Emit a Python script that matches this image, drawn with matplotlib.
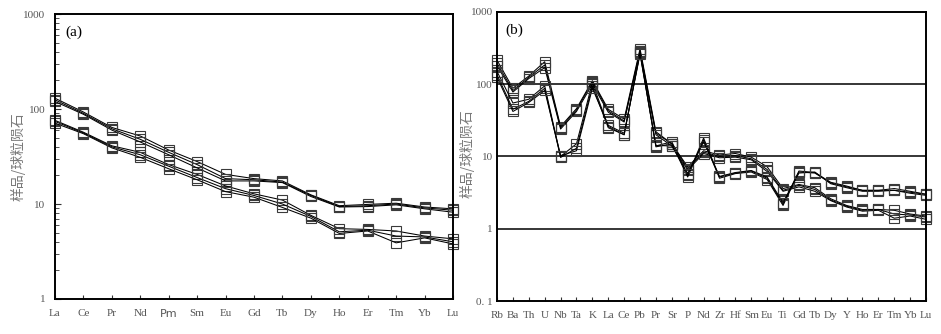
import numpy as np
import matplotlib
matplotlib.use('Agg')
import matplotlib.pyplot as plt
from matplotlib.ticker import LogLocator, NullFormatter, FixedLocator

# ---- data ----
# (a) chondrite-normalised REE
ree = ['La', 'Ce', 'Pr', 'Nd', 'Pm', 'Sm', 'Eu', 'Gd', 'Tb', 'Dy', 'Ho', 'Er', 'Tm', 'Yb', 'Lu']
ree_hi1 = [130, 93, 64, 52, 37, 28, 20.5, 18.5, 17.5, 12.5, 9.6, 9.9, 10.2, 9.3, 8.9]
ree_hi2 = [125, 90, 62, 48, 35, 26, 18.5, 18.0, 17.0, 12.3, 9.4, 9.6, 10.0, 9.1, 8.6]
ree_hi3 = [120, 88, 60, 45, 33, 24, 17.5, 17.5, 16.8, 12.0, 9.3, 9.4, 9.8, 8.9, 8.2]
ree_lo1 = [76, 57, 41, 35, 26, 20.5, 15.5, 12.8, 11.0, 7.6, 5.5, 5.4, 5.2, 4.6, 4.3]
ree_lo2 = [74, 56, 40, 33, 25, 19.0, 14.5, 12.3, 10.0, 7.4, 5.1, 5.3, 4.6, 4.5, 4.0]
ree_lo3 = [71, 55, 39, 31, 23.5, 18.0, 13.5, 11.8, 9.2, 7.1, 4.9, 5.2, 3.9, 4.4, 3.8]

# (b) spider diagram
spd = ['Rb', 'Ba', 'Th', 'U', 'Nb', 'Ta', 'K', 'La', 'Ce', 'Pb', 'Pr', 'Sr', 'P', 'Nd',
       'Zr', 'Hf', 'Sm', 'Eu', 'Ti', 'Gd', 'Tb', 'Dy', 'Y', 'Ho', 'Er', 'Tm', 'Yb', 'Lu']
spd_a1 = [150, 55, 62, 95, 10.0, 15, 105, 26, 20, 280, 14.0, 16, 5.5, 18, 5.2, 5.9, 6.3, 5.0, 2.2,
          6.3, 6.0, 4.4, 3.9, 3.4, 3.4, 3.6, 3.3, 3.0]
spd_a2 = [135, 45, 58, 88, 9.7, 13, 95, 25, 20, 270, 13.6, 15, 5.2, 17, 5.0, 5.8, 6.1, 4.8, 2.1,
          6.1, 5.9, 4.3, 3.8, 3.4, 3.4, 3.4, 3.2, 3.0]
spd_a3 = [125, 42, 56, 82, 10.3, 12, 88, 27, 21, 260, 14.2, 14, 5.8, 16, 5.3, 6.0, 6.4, 5.2, 2.3,
          5.9, 6.1, 4.2, 3.7, 3.3, 3.3, 3.4, 3.1, 2.9]
spd_b1 = [215, 88, 130, 205, 26, 46, 112, 45, 33, 310, 22, 15, 7.2, 12, 10.5, 11.0, 9.8, 7.2, 3.6,
          4.1, 3.7, 2.6, 2.1, 1.85, 1.85, 1.8, 1.6, 1.5]
spd_b2 = [195, 82, 125, 185, 25, 44, 108, 43, 31, 290, 21, 15, 6.8, 11.5, 10.0, 10.3, 9.3, 6.6, 3.4,
          4.0, 3.5, 2.5, 2.05, 1.8, 1.85, 1.6, 1.55, 1.45]
spd_b3 = [180, 78, 120, 170, 24, 42, 100, 41, 30, 285, 20, 14, 6.5, 11.0, 9.6, 9.8, 9.0, 6.2, 3.3,
          3.8, 3.3, 2.45, 2.0, 1.75, 1.8, 1.4, 1.5, 1.35]

tick_col = '#555555'
label_col = '#7a7a7a'
serif = ['Liberation Serif', 'DejaVu Serif']
cjk = ['Noto Sans CJK SC', 'DejaVu Sans']

fig = plt.figure(figsize=(9.41, 3.34), dpi=100)
ax1 = fig.add_axes([0.0584, 0.1048, 0.4230, 0.8532])
ax2 = fig.add_axes([0.5282, 0.0988, 0.4559, 0.8653])

line_kw = dict(color='black', linewidth=0.75, marker='s', markersize=7.5,
               markerfacecolor='none', markeredgecolor='#3a3a3a', markeredgewidth=0.8)

# ---- (a) ----
x1 = np.arange(len(ree))
for s in [ree_hi1, ree_hi2, ree_hi3, ree_lo1, ree_lo2, ree_lo3]:
    ax1.plot(x1, s, clip_on=False, **line_kw)
ax1.set_yscale('log')
ax1.set_ylim(1, 1000)
ax1.set_xlim(0, len(ree) - 1)
ax1.set_xticks(x1)
ax1.set_xticklabels(ree)
for t in ax1.get_xticklabels():
    if t.get_text() == 'Pm':
        t.set_family('DejaVu Sans')
        t.set_color('#222222')
    else:
        t.set_family(serif)
ax1.yaxis.set_major_locator(FixedLocator([1, 10, 100, 1000]))
ax1.set_yticklabels(['1', '10', '100', '1000'], family=serif)
ax1.yaxis.set_minor_locator(LogLocator(base=10, subs=np.arange(2, 10)))
ax1.yaxis.set_minor_formatter(NullFormatter())
ax1.tick_params(axis='x', direction='in', length=3, pad=7, labelsize=8, colors=tick_col)
ax1.tick_params(axis='y', which='major', direction='in', length=4, pad=7, labelsize=8, colors=tick_col)
ax1.tick_params(axis='y', which='minor', direction='in', length=3, color='#333333')
ax1.tick_params(axis='both', color='#333333')
for sp in ax1.spines.values():
    sp.set_linewidth(1.4)
ax1.set_ylabel('样品/球粒陨石', family=cjk, fontsize=10, color=label_col)
ax1.yaxis.set_label_coords(-0.075, 0.5)
ax1.text(0.027, 0.96, '(a)', transform=ax1.transAxes, family=serif, fontsize=11, va='top')

# ---- (b) ----
x2 = np.arange(len(spd))
for g in [1, 10, 100]:
    ax2.axhline(g, color='black', linewidth=1.1, zorder=0)
for s in [spd_b1, spd_b2, spd_b3, spd_a1, spd_a2, spd_a3]:
    ax2.plot(x2, s, clip_on=False, **line_kw)
ax2.set_yscale('log')
ax2.set_ylim(0.1, 1000)
ax2.set_xlim(0, len(spd) - 1)
ax2.set_xticks(x2)
ax2.set_xticklabels(spd, family=serif)
ax2.yaxis.set_major_locator(FixedLocator([0.1, 1, 10, 100, 1000]))
ax2.set_yticklabels(['0. 1', '1', '10', '100', '1000'], family=serif)
ax2.yaxis.set_minor_locator(FixedLocator([]))
ax2.tick_params(axis='x', direction='in', length=3, pad=7, labelsize=8, colors=tick_col)
ax2.tick_params(axis='y', direction='in', length=0, pad=3, labelsize=8, colors=tick_col)
ax2.tick_params(axis='x', color='#333333')
for sp in ax2.spines.values():
    sp.set_linewidth(1.4)
ax2.set_ylabel('样品/球粒陨石', family=cjk, fontsize=10, color=label_col)
ax2.yaxis.set_label_coords(-0.053, 0.51)
ax2.text(0.02, 0.96, '(b)', transform=ax2.transAxes, family=serif, fontsize=11, va='top')

fig.savefig('out.png', dpi=100)
